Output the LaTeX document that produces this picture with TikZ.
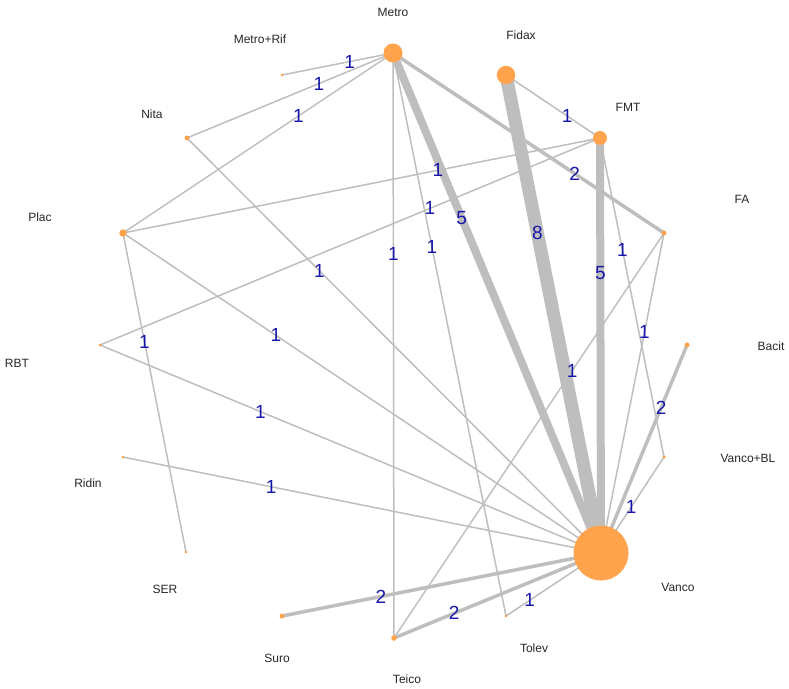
\documentclass[tikz,border=0pt]{standalone}
\usepackage{fontspec}
\setmainfont{Liberation Sans}
\usetikzlibrary{backgrounds}
\definecolor{nodeorange}{RGB}{255,163,77}
\definecolor{edgegray}{RGB}{190,190,190}
\definecolor{numblue}{RGB}{22,22,170}
\begin{document}
\begin{tikzpicture}[x=1pt,y=-1pt,
  trt/.style={circle,fill=nodeorange,draw=none,inner sep=0pt,minimum size=#1},
  nm/.style={font=\fontsize{12}{12}\selectfont,text=black!85,inner sep=0pt},
  lbl/.style={font=\fontsize{19}{19}\selectfont,text=numblue,inner sep=0pt},
  ed/.style={draw=edgegray,line width=#1},
]
\useasboundingbox (0,0) rectangle (789,688);
% treatment nodes
\node[trt=19pt] (Metro) at (393,53) {};
\node[trt=18.5pt] (Fidax) at (506,75) {};
\node[trt=14pt] (FMT) at (600,138) {};
\node[trt=5pt] (FA) at (664,233) {};
\node[trt=5pt] (Bacit) at (687,345) {};
\node[trt=3.5pt] (VancoBL) at (664,457) {};
\node[trt=55pt] (Vanco) at (601,553) {};
\node[trt=3pt] (Tolev) at (506,616) {};
\node[trt=5.5pt] (Teico) at (394,638) {};
\node[trt=5pt] (Suro) at (282,616) {};
\node[trt=3pt] (SER) at (186,552) {};
\node[trt=3pt] (Ridin) at (123,457) {};
\node[trt=3pt] (RBT) at (100,345) {};
\node[trt=7.5pt] (Plac) at (123,233) {};
\node[trt=5pt] (Nita) at (187,138) {};
\node[trt=3pt] (MetroRif) at (282,75) {};
% names
\node[nm] (tMetro) at (393,12) {Metro};
\node[nm] (tFidax) at (521,35) {Fidax};
\node[nm] (tFMT) at (628,107) {FMT};
\node[nm] (tFA) at (742,199) {FA};
\node[nm] (tBacit) at (771,346) {Bacit};
\node[nm] (tVancoBL) at (748,458) {Vanco+BL};
\node[nm] (tVanco) at (678,587) {Vanco};
\node[nm] (tTolev) at (534,648) {Tolev};
\node[nm] (tTeico) at (407,679) {Teico};
\node[nm] (tSuro) at (277,658) {Suro};
\node[nm] (tSER) at (165,589) {SER};
\node[nm] (tRidin) at (88,483) {Ridin};
\node[nm] (tRBT) at (17,363) {RBT};
\node[nm] (tPlac) at (40,217) {Plac};
\node[nm] (tNita) at (152,114) {Nita};
\node[nm] (tMetroRif) at (260,39) {Metro+Rif};
% edges
\begin{scope}[on background layer]
\draw[ed=1.5pt] (Metro.center) -- (MetroRif.center) node[lbl,pos=0.39] {1};
\draw[ed=1.5pt] (Metro.center) -- (Nita.center) node[lbl,pos=0.36] {1};
\draw[ed=1.5pt] (Metro.center) -- (Plac.center) node[lbl,pos=0.35] {1};
\draw[ed=1.5pt] (Metro.center) -- (Teico.center) node[lbl,pos=0.344] {1};
\draw[ed=1.5pt] (Metro.center) -- (Tolev.center) node[lbl,pos=0.345] {1};
\draw[ed=8pt] (Metro.center) -- (Vanco.center) node[lbl,pos=0.33] {5};
\draw[ed=3.5pt] (Metro.center) -- (FA.center) node[lbl,pos=0.67] {2};
\draw[ed=1.5pt] (Fidax.center) -- (FMT.center) node[lbl,pos=0.65] {1};
\draw[ed=13pt] (Fidax.center) -- (Vanco.center) node[lbl,pos=0.33] {8};
\draw[ed=8pt] (FMT.center) -- (Vanco.center) node[lbl,pos=0.325] {5};
\draw[ed=1.5pt] (FMT.center) -- (VancoBL.center) node[lbl,pos=0.35] {1};
\draw[ed=1.5pt] (FMT.center) -- (Plac.center) node[lbl,pos=0.34] {1};
\draw[ed=1.5pt] (FMT.center) -- (RBT.center) node[lbl,pos=0.34] {1};
\draw[ed=1.5pt] (FA.center) -- (Vanco.center) node[lbl,pos=0.31] {1};
\draw[ed=1.5pt] (FA.center) -- (Teico.center) node[lbl,pos=0.34] {1};
\draw[ed=3.5pt] (Bacit.center) -- (Vanco.center) node[lbl,pos=0.30] {2};
\draw[ed=1.5pt] (VancoBL.center) -- (Vanco.center) node[lbl,pos=0.52] {1};
\draw[ed=1.5pt] (Tolev.center) -- (Vanco.center) node[lbl,pos=0.25] {1};
\draw[ed=3.5pt] (Teico.center) -- (Vanco.center) node[lbl,pos=0.29] {2};
\draw[ed=3.5pt] (Suro.center) -- (Vanco.center) node[lbl,pos=0.31] {2};
\draw[ed=1.5pt] (Ridin.center) -- (Vanco.center) node[lbl,pos=0.31] {1};
\draw[ed=1.5pt] (RBT.center) -- (Vanco.center) node[lbl,pos=0.32] {1};
\draw[ed=1.5pt] (Plac.center) -- (Vanco.center) node[lbl,pos=0.32] {1};
\draw[ed=1.5pt] (Nita.center) -- (Vanco.center) node[lbl,pos=0.32] {1};
\draw[ed=1.5pt] (Plac.center) -- (SER.center) node[lbl,pos=0.34] {1};
\end{scope}
\end{tikzpicture}
\end{document}
